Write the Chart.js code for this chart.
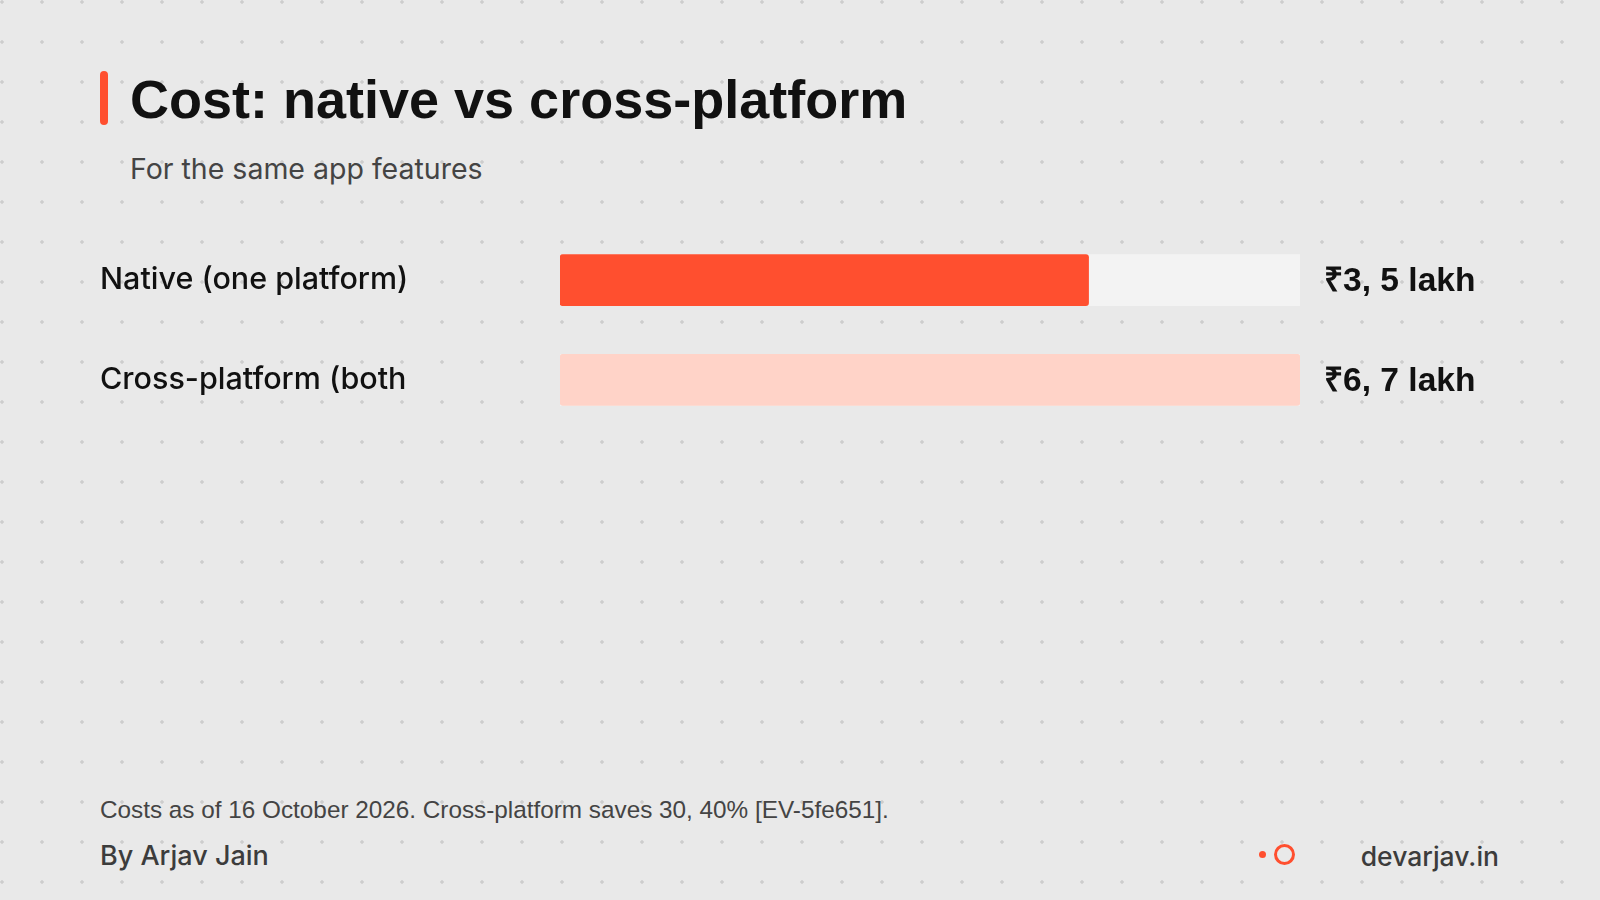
<!DOCTYPE html>
<html>
<head>
<meta charset="utf-8">
<script src="https://cdn.jsdelivr.net/npm/chart.js@4/dist/chart.umd.min.js"></script>
<style>
  html, body { margin: 0; padding: 0; }
  body {
    width: 1600px; height: 900px; position: relative; overflow: hidden;
    background-color: #e9e9e9;
    background-image: radial-gradient(circle, #cdcdcd 1.4px, rgba(0,0,0,0) 2px);
    background-size: 40px 40px;
    background-position: -18px -18px;
    font-family: "Liberation Sans", Arial, sans-serif;
  }
  .abs { position: absolute; line-height: 1; white-space: nowrap; }
  .inter { font-family: Inter, "Liberation Sans", sans-serif; }
  #accent { left: 100px; top: 71px; width: 8px; height: 54px; border-radius: 4px; background: #ff4f2f; position: absolute; }
  #title { left: 130px; top: 72px; font-size: 54px; font-weight: bold; color: #111; }
  #subtitle { left: 130px; top: 155px; font-size: 28.5px; color: #444; }
  #chartBox { position: absolute; left: 100px; top: 212px; width: 1400px; height: 236px; }
  #note { left: 100px; top: 798px; font-size: 24.3px; color: #444; }
  #byline { left: 100px; top: 842px; font-size: 27px; font-weight: 500; color: #3c3c3c; }
  #site { right: 101px; top: 843px; font-size: 26.5px; font-weight: 500; color: #3c3c3c; }
  #dot { position: absolute; left: 1259px; top: 851px; width: 7px; height: 7px; border-radius: 50%; background: #ff4f2f; }
  #ring { position: absolute; left: 1274px; top: 844px; width: 15px; height: 15px; border-radius: 50%; border: 3.5px solid #ff4f2f; }
</style>
</head>
<body>
<div id="accent"></div>
<div id="title" class="abs">Cost: native vs cross-platform</div>
<div id="subtitle" class="abs inter">For the same app features</div>
<div id="chartBox"><canvas id="myChart"></canvas></div>
<div id="note" class="abs">Costs as of 16 October 2026. Cross-platform saves 30, 40% [EV-5fe651].</div>
<div id="byline" class="abs inter">By Arjav Jain</div>
<div id="dot"></div>
<div id="ring"></div>
<div id="site" class="abs inter">devarjav.in</div>

<script>
// cost ranges in lakh rupees
const categories = ["Native (one platform)", "Cross-platform (both"];
const lowCost = [3, 6];
const highCost = [5, 7];
const scaleMax = 7;
const trackValues = categories.map(() => scaleMax);

const barColors = ["#ff4f2f", "#ffd3c8"];

const valueLabels = {
    id: "valueLabels",
    afterDatasetsDraw(chart) {
        const ctx = chart.ctx;
        const meta = chart.getDatasetMeta(0);
        ctx.save();
        ctx.font = "bold 33.6px 'Liberation Sans', Arial, sans-serif";
        ctx.fillStyle = "#111";
        ctx.textAlign = "left";
        ctx.textBaseline = "middle";
        meta.data.forEach((bar, i) => {
            ctx.fillText("₹" + lowCost[i] + ", " + highCost[i] + " lakh", chart.chartArea.right + 24, bar.y + 2);
        });
        ctx.restore();
    },
};

const canvas = document.getElementById("myChart");
const myChart = new Chart(canvas.getContext("2d"), {
    type: "bar",
    data: {
        labels: categories,
        datasets: [
            {
                data: highCost,
                backgroundColor: barColors,
                borderRadius: 3,
                borderSkipped: false,
                barThickness: 51,
                grouped: false,
                order: 1,
            },
            {
                data: trackValues,
                backgroundColor: "#f3f3f3",
                borderRadius: 0,
                barThickness: 51,
                grouped: false,
                order: 2,
            },
        ],
    },
    options: {
        indexAxis: "y",
        responsive: true,
        maintainAspectRatio: false,
        animation: false,
        layout: { padding: { right: 200 } },
        plugins: {
            legend: { display: false },
            tooltip: { enabled: false },
        },
        scales: {
            x: { min: 0, max: scaleMax, display: false },
            y: {
                grid: { display: false },
                border: { display: false },
                ticks: {
                    crossAlign: "far",
                    padding: 0,
                    color: "#111",
                    font: { family: "Inter, 'Liberation Sans', sans-serif", size: 30.5, weight: 500, lineHeight: 1.2 },
                },
                afterFit(scale) {
                    scale.width = 460;
                },
            },
        },
    },
    plugins: [valueLabels],
});
</script>
</body>
</html>
